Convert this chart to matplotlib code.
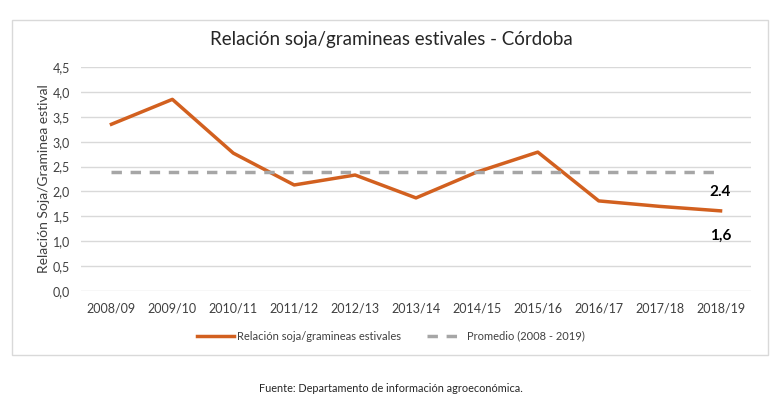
import matplotlib.pyplot as plt
import matplotlib.patches as mpatches

campanias = ['2008/09', '2009/10', '2010/11', '2011/12', '2012/13', '2013/14',
             '2014/15', '2015/16', '2016/17', '2017/18', '2018/19']
relacion = [3.35, 3.85, 2.77, 2.13, 2.33, 1.87, 2.39, 2.79, 1.81, 1.70, 1.61]
promedio = [2.4] * len(campanias)

plt.rcParams['font.family'] = ['Lato', 'DejaVu Sans']

fig = plt.figure(figsize=(7.82, 3.99), dpi=100)

# chart frame
frame = mpatches.Rectangle((12 / 782, 1 - 355 / 399), (768 - 12) / 782, (355 - 20) / 399,
                           transform=fig.transFigure, fill=False,
                           edgecolor='#D9D9D9', linewidth=1)
fig.patches.append(frame)

ax = fig.add_axes([81 / 782, 1 - 291 / 399, (751 - 81) / 782, (291 - 67) / 399])

x = list(range(len(campanias)))
ax.plot(x, relacion, color='#D2601F', linewidth=2.5, label='Relación soja/gramineas estivales')
ax.plot(x, promedio, color='#A6A6A6', linewidth=2.5, linestyle=(0, (3, 2.5)),
        label='Promedio (2008 - 2019)')

ax.set_xlim(-0.5, len(campanias) - 0.5)
ax.set_ylim(0, 4.5)
ax.set_yticks([i * 0.5 for i in range(10)])
ax.set_yticklabels([('%.1f' % (i * 0.5)).replace('.', ',') for i in range(10)], fontsize=9)
ax.set_xticks(x)
ax.set_xticklabels(campanias, fontsize=9)
ax.tick_params(length=0, pad=8, colors='#404040')
ax.grid(axis='y', color='#D9D9D9', linewidth=1)
ax.set_axisbelow(True)
for s in ax.spines.values():
    s.set_visible(False)

ax.set_ylabel('Relación Soja/Graminea estival', fontsize=10, color='#404040', labelpad=2)

ax.text(len(campanias) - 1, 1.98, '2.4', fontsize=11, fontweight='bold', ha='center', va='center')
ax.text(len(campanias) - 1, 1.1, '1,6', fontsize=11, fontweight='bold', ha='center', va='center')

fig.text(0.5, 1 - 40 / 399, 'Relación soja/gramineas estivales - Córdoba',
         ha='center', va='center', fontsize=13.5, color='#262626')

fig.legend(loc='center', bbox_to_anchor=(0.5, 1 - 336 / 399), ncol=2, frameon=False,
           fontsize=8, handlelength=3.3, handletextpad=0.3, columnspacing=2.3,
           labelcolor='#404040')

fig.text(0.5, 1 - 388 / 399, 'Fuente: Departamento de información agroeconómica.',
         ha='center', va='center', fontsize=7.8, color='#262626')

fig.savefig('out.png', dpi=100)
